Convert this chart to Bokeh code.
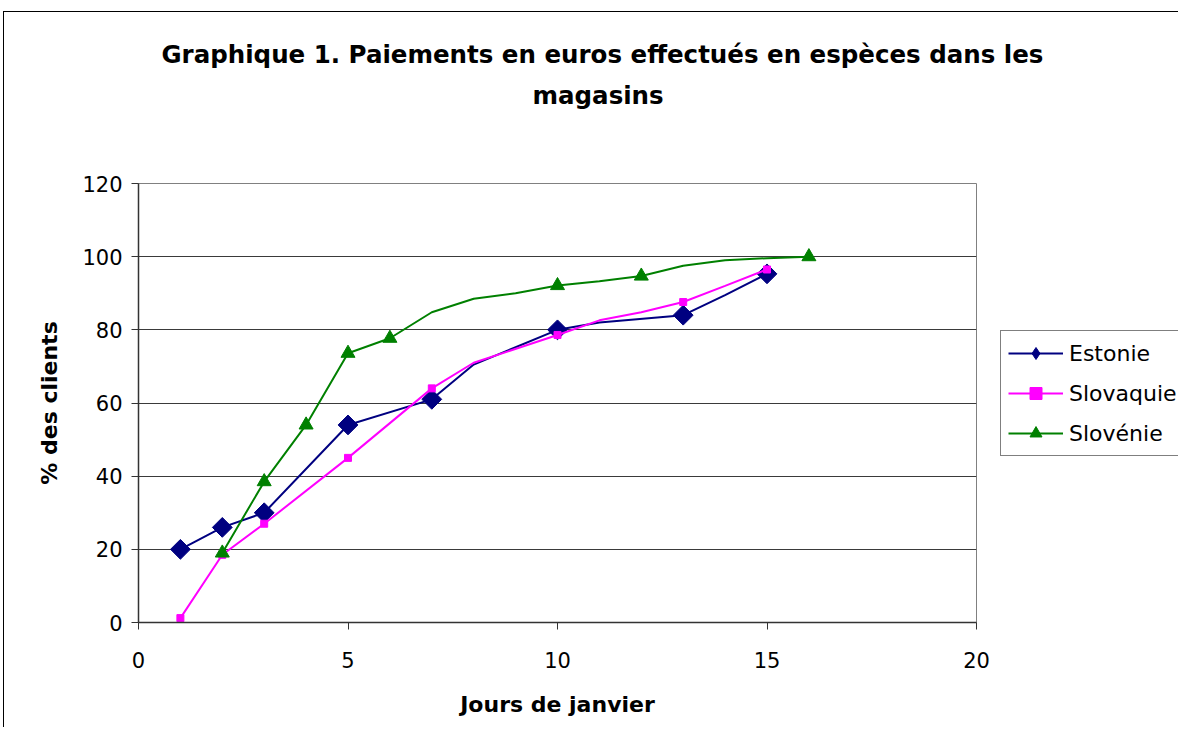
import math
from bokeh.plotting import figure
from bokeh.models import (ColumnDataSource, FixedTicker, Legend, LegendItem,
                          Title, Range1d)
from bokeh.embed import file_html
from bokeh.resources import INLINE

# ---------------- data ----------------
title_lines = ["Graphique 1. Paiements en euros effectués en espèces dans les",
               "magasins"]
x_label = "Jours de janvier"
y_label = "% des clients"
x_ticks = [0, 5, 10, 15, 20]
y_ticks = [0, 20, 40, 60, 80, 100, 120]

series_names = ["Estonie", "Slovaquie", "Slovénie"]

estonia_days = [1, 2, 3, 5, 7, 8, 10, 11, 13, 14, 15]
estonia_vals = [20, 26, 30, 54, 61, 70.5, 80, 82, 84, 89.5, 95.3]
estonia_marked = [1, 1, 1, 1, 1, 0, 1, 0, 1, 0, 1]

slovakia_days = [1, 2, 3, 5, 7, 8, 10, 11, 12, 13, 14, 15]
slovakia_vals = [1.2, 18.5, 27, 45, 64, 71, 78.6, 82.6, 84.8, 87.6, 92, 96.5]
slovakia_marked = [1, 1, 1, 1, 1, 0, 1, 0, 0, 1, 0, 1]

slovenia_days = [2, 3, 4, 5, 6, 7, 8, 9, 10, 11, 12, 13, 14, 15, 16]
slovenia_vals = [19, 38.5, 54, 73.6, 77.7, 84.8, 88.5, 90, 92.1, 93.3, 94.7,
                 97.5, 99, 99.6, 100]
slovenia_marked = [1, 1, 1, 1, 1, 0, 0, 0, 1, 0, 1, 0, 0, 0, 1]

colors = ["#000080", "#FF00FF", "#008000"]

FONT = "DejaVu Sans"

# ---------------- figure ----------------
p = figure(frame_width=838, frame_height=439,
           x_range=Range1d(0, 20), y_range=Range1d(0, 120),
           output_backend="svg", toolbar_location=None,
           min_border_left=134, min_border_right=194,
           min_border_top=171, min_border_bottom=105)
p.styles = {"margin-left": "3px", "margin-top": "11px",
            "border-left": "1px solid black", "border-top": "1px solid black"}

p.background_fill_color = "white"
p.border_fill_color = "white"
p.outline_line_color = "#808080"
p.outline_line_width = 1

p.xgrid.grid_line_color = None
p.ygrid.grid_line_color = "#3a3a3a"
p.ygrid.grid_line_width = 1

for ax in (p.xaxis[0], p.yaxis[0]):
    ax.axis_line_color = "#333333"
    ax.axis_line_width = 1.5
    ax.major_tick_line_color = "#333333"
    ax.major_tick_out = 7
    ax.major_tick_in = 0
    ax.minor_tick_line_color = None
    ax.major_label_text_font = FONT
    ax.major_label_text_font_size = "21px"
    ax.major_label_text_color = "black"
    ax.axis_label_text_font = FONT
    ax.axis_label_text_font_size = "22px"
    ax.axis_label_text_font_style = "bold"
    ax.axis_label_text_color = "black"

p.xaxis[0].ticker = FixedTicker(ticks=x_ticks)
p.yaxis[0].ticker = FixedTicker(ticks=y_ticks)
p.xaxis[0].axis_label = x_label
p.yaxis[0].axis_label = y_label
p.xaxis[0].major_label_standoff = 22
p.yaxis[0].major_label_standoff = 9
p.xaxis[0].axis_label_standoff = 21
p.yaxis[0].axis_label_standoff = 17


def subset(days, vals, flags):
    return ([d for d, f in zip(days, flags) if f],
            [v for v, f in zip(vals, flags) if f])


items = []
specs = [
    (estonia_days, estonia_vals, estonia_marked, "square", 14, math.pi / 4, "diamond"),
    (slovakia_days, slovakia_vals, slovakia_marked, "square", 7, 0, None),
    (slovenia_days, slovenia_vals, slovenia_marked, "triangle", 14, 0, None),
]
for name, col, (days, vals, flags, marker, size, ang, leg_marker) in zip(series_names, colors, specs):
    src = ColumnDataSource(dict(x=days, y=vals))
    lr = p.line("x", "y", source=src, line_color=col, line_width=2)
    mx, my = subset(days, vals, flags)
    msrc = ColumnDataSource(dict(x=mx, y=my))
    lm = None
    if leg_marker:
        # drawn beneath the rotated squares (hidden there); used for the legend
        lm = p.scatter("x", "y", source=msrc, marker=leg_marker, size=size,
                       fill_color=col, line_color=col, line_width=1)
    mr = p.scatter("x", "y", source=msrc, marker=marker, size=size, angle=ang,
                   fill_color=col, line_color=col, line_width=1)
    items.append(LegendItem(label=name, renderers=[lr, lm if lm is not None else mr]))

legend = Legend(items=items, location=(24, 166), orientation="vertical",
                label_text_font=FONT, label_text_font_size="22px",
                label_text_color="black",
                glyph_width=55, glyph_height=30, label_height=30,
                spacing=10, padding=7, margin=0, label_standoff=6,
                border_line_color="black", border_line_width=1,
                background_fill_color="white", background_fill_alpha=1)
p.add_layout(legend, "right")

# title: spacer, line 2, line 1 (stacked upward from the frame)
p.add_layout(Title(text=" ", text_font_size="60px", standoff=0), "above")
p.add_layout(Title(text=title_lines[1], align="left", offset=394,
                   text_font=FONT, text_font_size="24.5px", text_color="black",
                   text_font_style="bold", standoff=10), "above")
p.add_layout(Title(text=title_lines[0], align="left", offset=23,
                   text_font=FONT, text_font_size="24.5px", text_color="black",
                   text_font_style="bold", standoff=10), "above")

open("out.html", "w").write(file_html(p, INLINE))
